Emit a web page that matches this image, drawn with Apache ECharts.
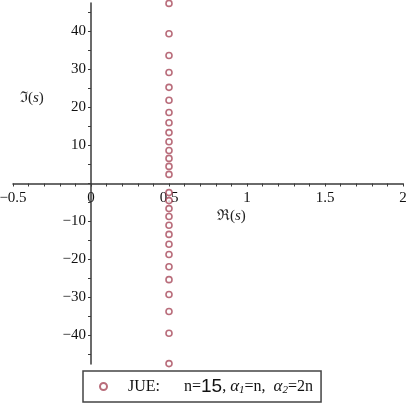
<!DOCTYPE html>
<html><head><meta charset="utf-8">
<script src="https://cdn.jsdelivr.net/npm/echarts@6/dist/echarts.min.js"></script>
<style>html,body{margin:0;padding:0;background:#fff}#c{width:407px;height:405px}</style>
</head><body><div id="c"></div>
<script>
// Zeros of the JUE polynomial: real and imaginary parts
const reParts = [0.5,0.5,0.5,0.5,0.5,0.5,0.5,0.5,0.5,0.5,0.5,0.5,0.5,0.5,
                 0.5,0.5,0.5,0.5,0.5,0.5,0.5,0.5,0.5,0.5,0.5,0.5,0.5,0.5];
const imParts = [2.4,4.5,6.6,8.7,11.0,13.4,16.0,18.7,21.9,25.3,29.2,33.7,39.4,47.4,
                 -2.4,-4.5,-6.6,-8.7,-11.0,-13.4,-16.0,-18.7,-21.9,-25.3,-29.2,-33.7,-39.4,-47.4];
const xTickValues = [-0.5,-0.4,-0.3,-0.2,-0.1,0,0.1,0.2,0.3,0.4,0.5,0.6,0.7,0.8,0.9,1,1.1,1.2,1.3,1.4,1.5,1.6,1.7,1.8,1.9,2];
const xLabelValues = [-0.5,0,0.5,1,1.5,2];
const yTickValues = [-45,-40,-35,-30,-25,-20,-15,-10,-5,0,5,10,15,20,25,30,35,40,45];
const yLabelValues = [-40,-30,-20,-10,10,20,30,40];
const seriesName = 'JUE';

const pts = reParts.map((r,i)=>[r, imParts[i]]);
const axisCol = '#3a3a3a';
const serif = '"Liberation Serif","DejaVu Serif",serif';
const fmt = v => { const s = String(Math.round(v*10)/10); return s.replace('-', '\u2212'); };

// grid geometry
const G = {left:13, right:4, top:3, bottom:41};
const W = 407 - G.left - G.right, H = 405 - G.top - G.bottom;
const xMin = -0.5, xMax = 2, yMin = -47.5, yMax = 47.5;
const yAxisOffset = -W * (0 - xMin) / (xMax - xMin);   // move y axis to x=0
const xAxisOffset = -H * (0 - yMin) / (yMax - yMin);   // move x axis to y=0

const chart = echarts.init(document.getElementById('c'), null, {renderer:'canvas'});
chart.setOption({
  animation:false,
  backgroundColor:'#fff',
  grid:Object.assign({containLabel:false, outerBoundsMode:'none'}, G),
  xAxis:{
    type:'value', min:xMin, max:xMax, position:'bottom', offset:xAxisOffset,
    axisLine:{onZero:false, lineStyle:{color:axisCol, width:1.5}},
    axisTick:{show:true, inside:false, length:3, customValues:xTickValues, lineStyle:{color:axisCol}},
    axisLabel:{customValues:xLabelValues, formatter:fmt, fontFamily:serif, fontSize:15, color:'#111', margin:7,
      showMinLabel:true, showMaxLabel:true, hideOverlap:false},
    splitLine:{show:false}
  },
  yAxis:{
    type:'value', min:yMin, max:yMax, position:'left', offset:yAxisOffset,
    axisLine:{onZero:false, lineStyle:{color:axisCol, width:1.5}},
    axisTick:{show:true, inside:false, length:3, customValues:yTickValues, lineStyle:{color:axisCol}},
    axisLabel:{customValues:yLabelValues, formatter:fmt, fontFamily:serif, fontSize:15, color:'#111', margin:5, hideOverlap:false},
    splitLine:{show:false}
  },
  legend:{
    show:true, left:83, top:371, width:240,
    padding:[6,8,6,16],
    borderColor:'#444', borderWidth:1.5, borderRadius:0,
    itemWidth:7, itemHeight:7, itemGap:0,
    data:[{name:seriesName, icon:'circle'}],
    formatter: () => '{a|JUE:}{g| }{b|n=}{c|15}{b|, }{i|α}{s|1}{b|=n,  }{i|α}{s|2}{b|=2n}',
    textStyle:{
      fontFamily:serif, fontSize:16, color:'#111',
      rich:{
        a:{fontFamily:serif, fontSize:16, color:'#111', padding:[0,0,0,16]},
        g:{width:24},
        b:{fontFamily:serif, fontSize:16, color:'#111'},
        c:{fontFamily:'"Liberation Sans","DejaVu Sans",sans-serif', fontSize:19, color:'#111'},
        i:{fontFamily:serif, fontSize:17, fontStyle:'italic', color:'#111'},
        s:{fontFamily:serif, fontSize:11, fontStyle:'italic', color:'#111', padding:[8,0,0,0]}
      }
    }
  },
  graphic:[
    {type:'text', left:20, top:91, style:{text:'{r|ℑ(}{it|s}{r|)}', rich:{
      r:{fontFamily:serif, fontSize:15, fill:'#222'}, it:{fontFamily:serif, fontSize:15, fontStyle:'italic', fill:'#222'}}}},
    {type:'text', left:217, top:209, style:{text:'{r|ℜ(}{it|s}{r|)}', rich:{
      r:{fontFamily:serif, fontSize:15, fill:'#222'}, it:{fontFamily:serif, fontSize:15, fontStyle:'italic', fill:'#222'}}}}
  ],
  series:[{
    name:seriesName, type:'scatter', data:pts,
    symbol:'circle', symbolSize:6,
    itemStyle:{color:'#fff', borderColor:'#a8485a', borderWidth:1.6},
    z:5
  }]
});
</script></body></html>
